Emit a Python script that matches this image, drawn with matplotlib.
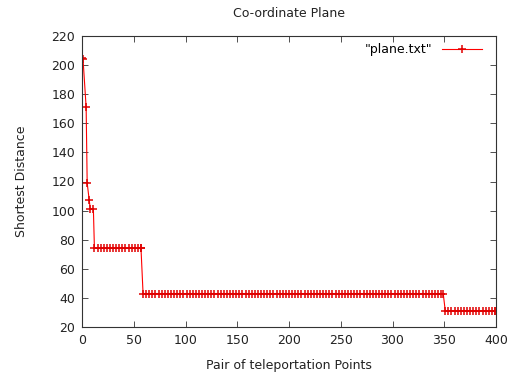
import numpy as np
import matplotlib
matplotlib.use("Agg")
import matplotlib.pyplot as plt

# first few points (before the plateaus)
head_x = [0, 1, 4, 5, 7, 8, 11]
head_y = [205, 204, 171, 119, 107, 101, 101]

# flat runs: start, end, value (points every ~3 units)
level_start = [12, 59, 351]
level_end = [58, 350, 400]
level_value = [74, 43, 31]
level_step = 3

xs = list(head_x)
ys = list(head_y)
for s, e, v in zip(level_start, level_end, level_value):
    pts = list(np.arange(s, e, level_step)) + [e - 1]
    xs += pts
    ys += [v] * len(pts)

xticks = [0, 50, 100, 150, 200, 250, 300, 350, 400]
yticks = [20, 40, 60, 80, 100, 120, 140, 160, 180, 200, 220]

plt.rcParams['font.family'] = ['DejaVu Sans']

fig = plt.figure(figsize=(5.08, 3.76), dpi=100)
ax = fig.add_axes([82 / 508, 49 / 376, 414 / 508, 291 / 376])

ax.plot(xs, ys, color='#ff0000', lw=0.8, marker='+', ms=5.5, mew=1.1,
        mec='#e00000', label='"plane.txt"')

ax.set_xlim(0, 400)
ax.set_ylim(20, 220)
ax.set_xticks(xticks)
ax.set_yticks(yticks)
ax.tick_params(direction='in', top=True, right=True, length=4, width=0.6,
               labelsize=9, pad=5, colors='#333333', labelcolor='#222222')
for sp in ax.spines.values():
    sp.set_linewidth(0.8)
    sp.set_color('#333333')

ax.set_title('Co-ordinate Plane', fontsize=9, pad=14, color='#222222')
ax.set_xlabel('Pair of teleportation Points', fontsize=9, labelpad=9,
              color='#222222')
ax.set_ylabel('Shortest Distance', fontsize=9, labelpad=17, color='#222222')

leg = ax.legend(loc='upper right', frameon=False, markerfirst=False,
                fontsize=9, handlelength=3.2, borderaxespad=0.2,
                bbox_to_anchor=(0.985, 1.0))

fig.savefig('out.png', dpi=100)
